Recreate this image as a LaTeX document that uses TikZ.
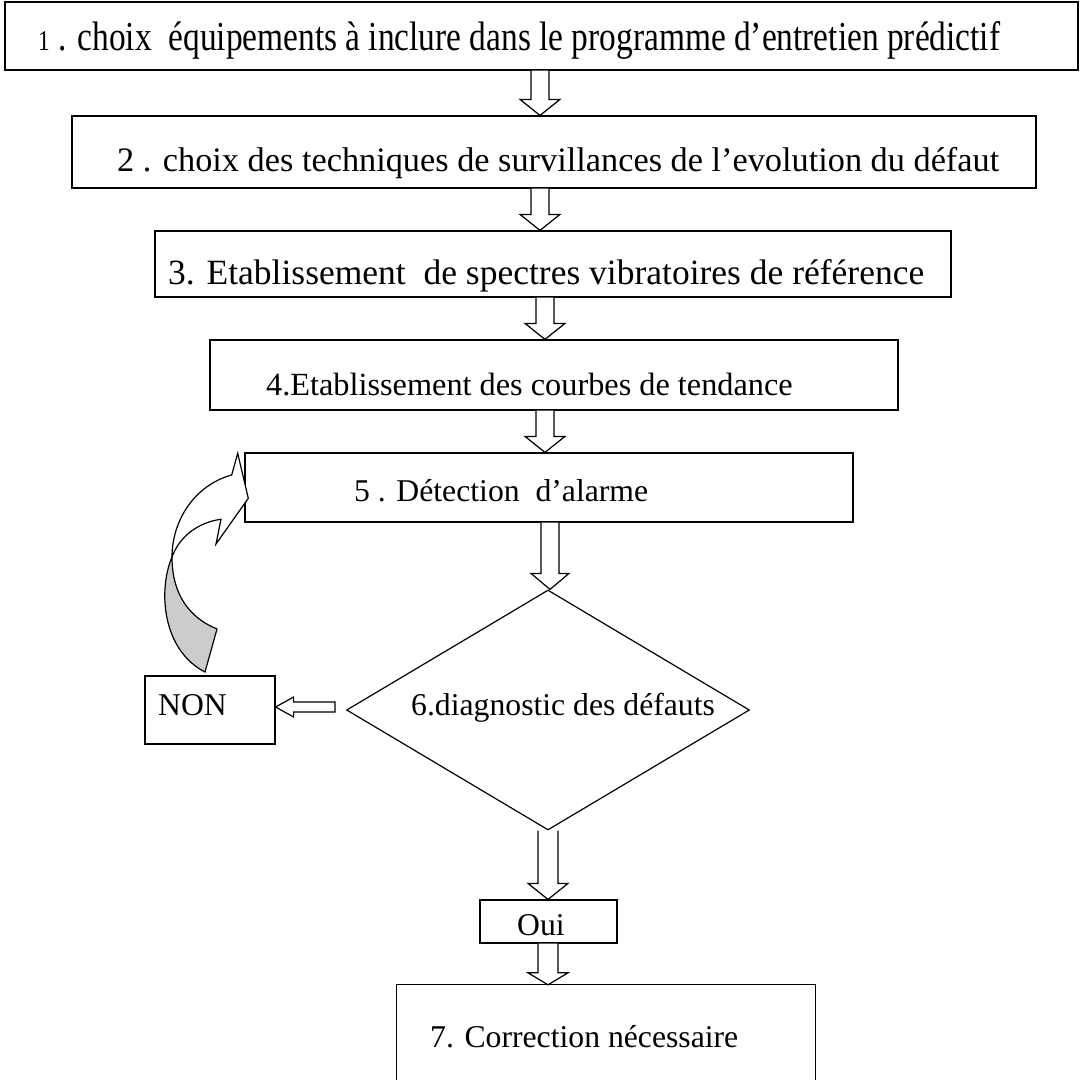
\documentclass[tikz,border=0pt]{standalone}
\usepackage{fontspec}
\setmainfont{Liberation Serif}
\usetikzlibrary{calc,shapes.geometric}
\newcommand{\blkdown}[6]{%
  \draw[blk] let \p1=(#2), \p2=(#3) in
    (#1-#4,\y1) -- (#1-#4,\y2+#6pt) -- (#1-#5,\y2+#6pt) -- (#1,\y2)
    -- (#1+#5,\y2+#6pt) -- (#1+#4,\y2+#6pt) -- (#1+#4,\y1);}
\begin{document}
\begin{tikzpicture}[x=1pt,y=-1pt,
  box/.style={draw,line width=1.2pt,inner sep=0pt,rectangle},
  lbl/.style={inner sep=0pt,anchor=base west,font=\fontsize{31.7}{36}\selectfont},
  blk/.style={draw,line width=1.2pt,fill=white,line join=miter},
  edge7/.style={line width=1.2pt}]
\useasboundingbox (0,0) rectangle (1081,1079);
% boxes
\node[box,minimum width=1073pt,minimum height=68pt] (b1) at (541.5,36) {};
\node[box,minimum width=964pt,minimum height=72pt] (b2) at (554,152) {};
\node[box,minimum width=796pt,minimum height=66pt] (b3) at (553,264) {};
\node[box,minimum width=688pt,minimum height=70pt] (b4) at (554,375) {};
\node[box,minimum width=608pt,minimum height=69pt] (b5) at (549,487.5) {};
\node[draw,line width=1.2pt,shape=diamond,inner sep=0pt,aspect=1.68,
      minimum width=403pt,minimum height=240pt] (d6) at (548,710) {};
\node[box,minimum width=130pt,minimum height=68pt] (non) at (210,710) {};
\node[box,minimum width=137pt,minimum height=43pt] (oui) at (548.5,921.5) {};
\node[inner sep=0pt,minimum width=418pt,minimum height=200pt] (b7) at (606,1085) {};
\draw[edge7] (b7.south west) -- (b7.north west) -- (b7.north east) -- (b7.south east);
% texts
\node[lbl] (t1) at (38,50) {\resizebox{962pt}{29pt}{\fontsize{31.7}{36}\selectfont{\fontsize{22}{22}\selectfont 1} . choix~ équipements à inclure dans le programme d’entretien prédictif}};
\node[lbl,font=\fontsize{34.3}{38}\selectfont] (t2) at (117,171) {2 . choix des techniques de survillances de l’evolution du défaut};
\node[lbl,font=\fontsize{35.5}{40}\selectfont] (t3) at (168,284) {3. Etablissement~ de spectres vibratoires de référence};
\node[lbl,font=\fontsize{32.3}{36}\selectfont] (t4) at (266,395) {4.Etablissement des courbes de tendance};
\node[lbl] (t5) at (354,501) {5 . Détection~ d’alarme};
\node[lbl] (t6) at (411,715) {6.diagnostic des défauts};
\node[lbl] (tnon) at (158,715) {NON};
\node[lbl] (toui) at (517,935) {Oui};
\node[lbl] (t7) at (430,1047) {7. Correction nécessaire};
% block arrows
\blkdown{540}{b1.south}{b2.north}{9}{20}{16}
\blkdown{540}{b2.south}{b3.north}{9}{20}{16}
\blkdown{545}{b3.south}{b4.north}{9}{20}{16}
\blkdown{545}{b4.south}{b5.north}{9}{20}{16}
\blkdown{550}{b5.south}{d6.north}{9}{19}{16}
\blkdown{548}{d6.south}{oui.north}{10}{20}{16}
\blkdown{548}{oui.south}{b7.north}{10}{20}{12}
\draw[blk] let \p1=(d6.west), \p2=(non.east) in
  (\x1-11pt,\y2+8pt) -- (\x2+18pt,\y2+8pt) -- (\x2+18pt,\y2+13pt) -- (\x2,\y2+3pt)
  -- (\x2+18pt,\y2-7pt) -- (\x2+18pt,\y2-2pt) -- (\x1-11pt,\y2-2pt) -- cycle;
% curved arrow
\draw[line width=1.2pt,fill=gray!40]
  (172,557) .. controls (158,590) and (162,650) .. (205,672) -- (217,629)
  .. controls (190,618) and (172,595) .. (172,557) -- cycle;
\draw[line width=1.2pt,fill=white,line join=miter]
  (172,557) .. controls (172,520) and (195,485) .. (231.7,475) -- (237.7,453.3)
  -- (248.3,498.3) -- (216,544) -- (221,519.3)
  .. controls (200,522) and (180,535) .. (172,557) -- cycle;
\end{tikzpicture}
\end{document}
